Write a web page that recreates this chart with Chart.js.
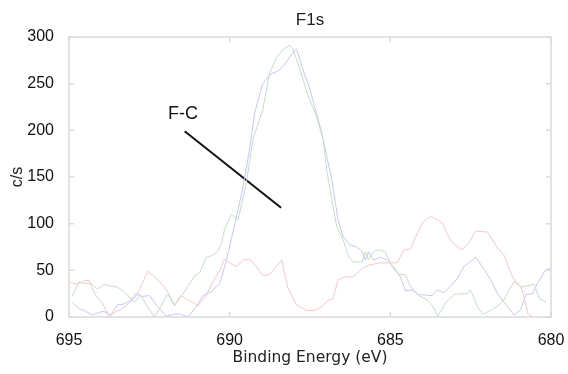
<!DOCTYPE html>
<html>
<head>
<meta charset="utf-8">
<script src="https://cdn.jsdelivr.net/npm/chart.js@4/dist/chart.umd.min.js"></script>
<style>
html,body{margin:0;padding:0;background:#fff;}
#wrap{width:568px;height:374px;}
</style>
</head>
<body>
<div id="wrap"><canvas id="c" width="568" height="374"></canvas></div>
<script>
// ---- data (binding energy in eV, counts in c/s) ----
const greenEnergy = [694.90,694.69,694.58,694.32,694.12,693.91,693.70,693.49,693.28,692.97,692.76,692.60,692.34,692.13,691.93,691.72,691.51,691.30,691.09,690.94,690.73,690.53,690.38,690.25,690.16,689.95,689.74,689.48,689.28,688.97,688.75,688.54,688.34,688.13,688.03,687.81,687.60,687.29,687.09,686.97,686.82,686.67,686.47,686.31,686.16,685.88,685.78,685.68,685.52,685.37,685.16,684.95,684.74,684.53,684.38,684.12,683.85,683.70,683.52,683.28,683.02,682.81,682.60,682.50,682.29,682.13,681.82,681.51,681.15,680.94,680.52,680.37,680.16];
const greenCounts = [22,38,36,36,30,35,33,32,27,16,23,13,0,12,25,12,22,33,44,47,64,66,70,79,94,110,104,144,190,222,262,278,287,291,287,265,241,214,190,155,126,97,83,65,59,59,70,61,70,72,70,54,46,45,33,23,18,13,1,15,24,25,25,29,11,3,8,16,38,32,35,20,16];

const blueEnergy = [694.90,694.69,694.48,694.27,694.06,693.91,693.70,693.49,693.28,693.07,692.92,692.71,692.50,692.24,691.98,691.72,691.51,691.30,691.04,690.83,690.57,690.31,690.10,689.95,689.74,689.58,689.38,689.22,688.97,688.75,688.59,688.44,688.28,688.07,687.92,687.72,687.50,687.29,687.14,686.98,686.82,686.63,686.47,686.25,686.04,685.88,685.78,685.68,685.52,685.31,685.10,684.90,684.69,684.53,684.32,684.12,683.70,683.54,683.33,683.13,682.92,682.71,682.34,682.08,681.88,681.67,681.46,681.15,680.94,680.78,680.57,680.42,680.16,680.00];
const blueCounts = [15,9,6,2,5,6,2,13,14,18,25,22,23,11,1,3,3,0,11,23,27,36,61,83,115,140,180,219,250,260,262,265,271,282,287,265,244,217,198,172,147,104,86,77,75,70,61,70,61,64,61,54,43,28,29,24,23,29,26,33,41,54,64,51,40,25,16,2,8,24,25,36,51,52];

const redEnergy = [694.95,694.74,694.53,694.38,694.17,693.96,693.75,693.54,693.38,693.13,692.87,692.55,692.34,692.13,691.93,691.72,691.51,691.30,691.15,690.99,690.73,690.52,690.31,690.16,690.00,689.79,689.58,689.38,689.17,688.97,688.75,688.38,688.19,687.92,687.60,687.34,687.14,686.94,686.78,686.63,686.41,686.16,685.84,685.63,685.31,685.00,684.79,684.58,684.38,684.01,683.75,683.54,683.39,683.13,682.87,682.76,682.55,682.34,681.98,681.67,681.46,681.30,681.15,680.94,680.83,680.73,680.57];
const redCounts = [37,35,39,39,23,15,0,6,8,15,24,49,43,36,27,13,23,18,16,12,23,38,50,62,58,54,61,62,54,44,46,61,31,13,7,7,11,18,20,40,43,43,53,56,58,58,58,72,73,101,108,104,101,82,74,72,80,92,91,74,66,51,40,33,20,4,0];

const xTickValues = [695,690,685,680];
const yTickValues = [0,50,100,150,200,250,300];

// annotation (data units)
const annotLabel = "F-C";
const annotLabelPos = {x: 691.45, y: 217};
const annotLine = [{x: 691.4, y: 199}, {x: 688.4, y: 117}];

const chartTitle = "F1s";
const xTitle = "Binding Energy (eV)";
const yTitle = "c/s";

function zip(xs, ys){ return xs.map((x,i)=>({x:x, y:ys[i]})); }

const frameColor = '#dadada';
const sans = '"Liberation Sans", Arial, sans-serif';

const framePlugin = {
  id: 'framePlugin',
  afterDatasetsDraw(chart){
    const {ctx, chartArea:a, scales} = chart;
    ctx.save();
    ctx.strokeStyle = frameColor;
    ctx.lineWidth = 1.5;
    ctx.strokeRect(a.left, a.top, a.right - a.left, a.bottom - a.top);
    const L = 5;
    ctx.beginPath();
    xTickValues.forEach(v=>{
      const px = scales.x.getPixelForValue(v);
      ctx.moveTo(px, a.bottom); ctx.lineTo(px, a.bottom - L);
      ctx.moveTo(px, a.top); ctx.lineTo(px, a.top + L);
    });
    yTickValues.forEach(v=>{
      const py = scales.y.getPixelForValue(v);
      ctx.moveTo(a.left, py); ctx.lineTo(a.left + L, py);
      ctx.moveTo(a.right, py); ctx.lineTo(a.right - L, py);
    });
    ctx.stroke();
    // annotation text
    ctx.fillStyle = '#111';
    ctx.font = '18px ' + sans;
    ctx.textAlign = 'center';
    ctx.textBaseline = 'middle';
    ctx.fillText(annotLabel, scales.x.getPixelForValue(annotLabelPos.x), scales.y.getPixelForValue(annotLabelPos.y));
    // title centered above plot area
    ctx.fillStyle = '#222';
    ctx.font = '17px ' + sans;
    ctx.fillText(chartTitle, (a.left + a.right)/2, 20);
    ctx.restore();
  }
};

new Chart(document.getElementById('c'), {
  type: 'line',
  data: {
    datasets: [
      {label:'green', data: zip(greenEnergy, greenCounts), borderColor:'#c4e0c4', borderWidth:1, pointRadius:0, tension:0, fill:false},
      {label:'blue', data: zip(blueEnergy, blueCounts), borderColor:'#c6c6ff', borderWidth:1, pointRadius:0, tension:0, fill:false},
      {label:'red', data: zip(redEnergy, redCounts), borderColor:'#ffc6c6', borderWidth:1, pointRadius:0, tension:0, fill:false},
      {label:'annot', data: annotLine, borderColor:'#111', borderWidth:2, pointRadius:0, tension:0, fill:false, clip:false}
    ]
  },
  options: {
    responsive: false,
    animation: false,
    events: [],
    layout: {padding: {top: 37, right: 17, left: 0, bottom: 0}},
    plugins: {legend:{display:false}, tooltip:{enabled:false}, title:{display:false}},
    scales: {
      x: {
        type: 'linear', reverse: true, min: 680, max: 695,
        afterBuildTicks(s){ s.ticks = xTickValues.map(v=>({value:v})); },
        afterFit(s){ s.height = 57; s.paddingRight = 0; s.paddingLeft = 0; },
        grid: {display:false}, border:{display:false},
        ticks: {font:{size:16, family:sans}, color:'#111', padding:6, maxRotation:0, autoSkip:false},
        title: {display:true, text:xTitle, font:{size:15.5, family:'"DejaVu Sans", sans-serif'}, color:'#222', padding:{top:0,bottom:7}}
      },
      y: {
        min: 0, max: 300,
        afterBuildTicks(s){ s.ticks = yTickValues.map(v=>({value:v})); },
        afterFit(s){ s.width = 69; },
        grid: {display:false}, border:{display:false},
        ticks: {font:{size:16, family:sans}, color:'#111', padding:7, autoSkip:false},
        title: {display:true, text:yTitle, font:{size:16, family:sans}, color:'#222', padding:{top:8,bottom:0}}
      }
    }
  },
  plugins: [framePlugin]
});
</script>
</body>
</html>
